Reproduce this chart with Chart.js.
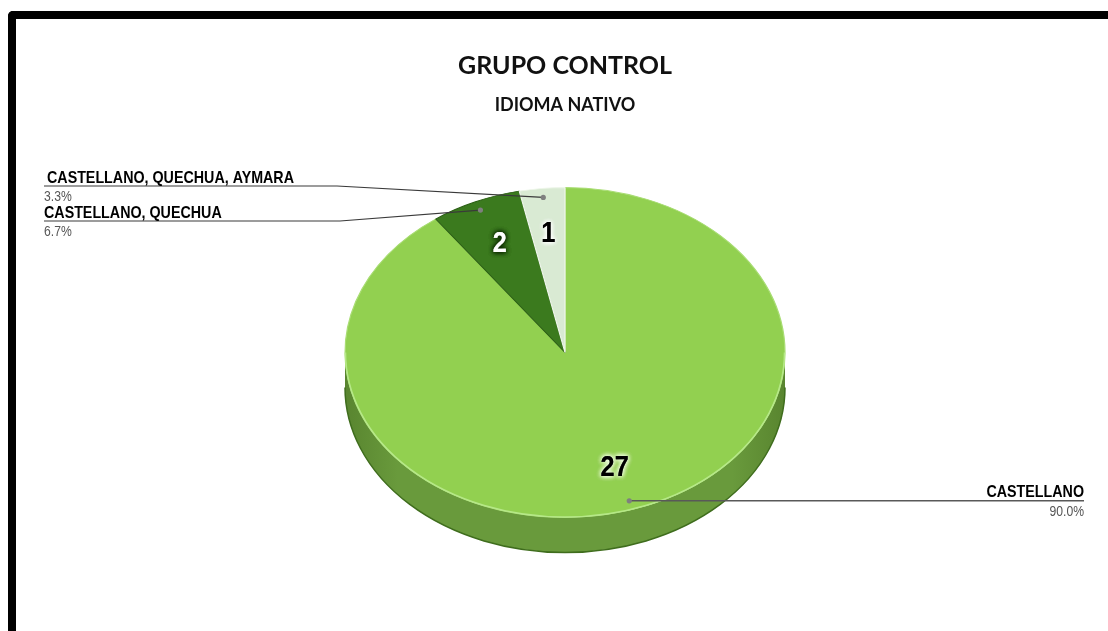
<!DOCTYPE html>
<html>
<head>
<meta charset="utf-8">
<script src="https://cdn.jsdelivr.net/npm/chart.js@4.4.1/dist/chart.umd.min.js"></script>
<style>
  html, body { margin: 0; padding: 0; background: #fff; overflow: hidden; }
  #wrap { position: relative; width: 1108px; height: 631px; overflow: hidden; }
  #c { position: absolute; left: 0; top: 0; }
  #frame {
    position: absolute; left: 8px; top: 11px; width: 1200px; height: 700px;
    border-top: 8px solid #000; border-left: 8px solid #000;
    border-top-left-radius: 5px; box-sizing: border-box; pointer-events: none;
  }
</style>
</head>
<body>
<div id="wrap">
  <canvas id="c" width="1108" height="631"></canvas>
  <div id="frame"></div>
</div>
<script>
// Native language of the control group
const categories = ['CASTELLANO', 'CASTELLANO, QUECHUA', 'CASTELLANO, QUECHUA, AYMARA'];
const counts = [27, 2, 1];

// Slice colours: top face, side wall, slice edge
const topColors = ['#92d050', '#3b7a1e', '#d9ead3'];
const sideColors = ['#699a3c', '#2d5e15', '#aebfa8'];
const edgeColors = ['#a9dd74', '#2b5f14', '#eef6ea'];

const TILT = 0.75;   // vertical squash of the pie disc
const DEPTH = 35;    // thickness of the disc in pixels
const CONDENSE = 0.84; // horizontal squeeze for the condensed label lettering

const total = counts.reduce((a, b) => a + b, 0);
const percentText = counts.map(v => (v / total * 100).toFixed(1) + '%');

const SANS = '"Liberation Sans", Arial, sans-serif';

// Where each callout's text sits
const callouts = [
  { align: 'right', x: 1084 },
  { align: 'left', x0: 44, x1: 340, y: 221, tx: 44 },
  { align: 'left', x0: 44, x1: 337, y: 186, tx: 47 }
];

function arcGeom(arc) {
  return arc.getProps(['x', 'y', 'startAngle', 'endAngle', 'outerRadius'], true);
}

function onFace(g, frac) {
  const mid = (g.startAngle + g.endAngle) / 2;
  return {
    x: g.x + g.outerRadius * frac * Math.cos(mid),
    y: g.y + g.outerRadius * frac * Math.sin(mid) * TILT
  };
}

// draw text narrowed horizontally around its anchor
function condensedText(ctx, text, x, y, times) {
  ctx.save();
  ctx.translate(x, y);
  ctx.scale(CONDENSE, 1);
  for (let k = 0; k < (times || 1); k++) ctx.fillText(text, 0, 0);
  ctx.restore();
}

const pie3d = {
  id: 'pie3d',
  beforeDatasetsDraw(chart) {
    const ctx = chart.ctx;
    const arcs = chart.getDatasetMeta(0).data;
    const g0 = arcGeom(arcs[0]);
    const cx = g0.x, cy = g0.y, r = g0.outerRadius, ry = r * TILT;

    // side wall, only the front half of the disc is visible
    ctx.save();
    arcs.forEach((arc, i) => {
      const g = arcGeom(arc);
      [-2 * Math.PI, 0, 2 * Math.PI].forEach(shift => {
        const a0 = Math.max(g.startAngle, shift);
        const a1 = Math.min(g.endAngle, shift + Math.PI);
        if (a1 <= a0) return;
        ctx.beginPath();
        ctx.ellipse(cx, cy, r, ry, 0, a0, a1);
        ctx.ellipse(cx, cy + DEPTH, r, ry, 0, a1, a0, true);
        ctx.closePath();
        ctx.fillStyle = sideColors[i];
        ctx.fill();
        const grad = ctx.createLinearGradient(cx - r, 0, cx + r, 0);
        grad.addColorStop(0, 'rgba(40,70,10,0.25)');
        grad.addColorStop(0.12, 'rgba(40,70,10,0)');
        grad.addColorStop(0.88, 'rgba(40,70,10,0)');
        grad.addColorStop(1, 'rgba(40,70,10,0.25)');
        ctx.fillStyle = grad;
        ctx.fill();
        ctx.beginPath();
        ctx.ellipse(cx, cy + DEPTH, r, ry, 0, a0, a1);
        ctx.strokeStyle = '#3f6d1d';
        ctx.lineWidth = 1.5;
        ctx.stroke();
      });
    });
    ctx.restore();

    // squash the round pie into the tilted top face
    ctx.save();
    ctx.translate(0, cy);
    ctx.scale(1, TILT);
    ctx.translate(0, -cy);
  },
  afterDatasetsDraw(chart) {
    const ctx = chart.ctx;
    ctx.restore();
    const arcs = chart.getDatasetMeta(0).data;
    const g0 = arcGeom(arcs[0]);
    const cx = g0.x, cy = g0.y, r = g0.outerRadius, ry = r * TILT;

    // light rim where the top face meets the wall
    ctx.save();
    ctx.beginPath();
    ctx.ellipse(cx, cy, r - 0.5, ry - 0.5, 0, 0, Math.PI);
    ctx.strokeStyle = '#b6e888';
    ctx.lineWidth = 1.5;
    ctx.stroke();
    ctx.restore();

    // value labels inside the slices
    const valueStyles = [
      { fill: '#000', glow: '#f2ffe4' },
      { fill: '#fff', glow: '#0d2a02' },
      { fill: '#000', glow: '#ffffff' }
    ];
    ctx.save();
    ctx.font = 'bold 30px ' + SANS;
    ctx.textAlign = 'center';
    ctx.textBaseline = 'middle';
    arcs.forEach((arc, i) => {
      const p = onFace(arcGeom(arc), 0.73);
      const s = valueStyles[i];
      ctx.fillStyle = s.fill;
      ctx.shadowColor = s.glow;
      ctx.shadowBlur = 5;
      condensedText(ctx, String(counts[i]), p.x, p.y + 1, 3);
    });
    ctx.restore();

    // callouts with leader lines
    ctx.save();
    arcs.forEach((arc, i) => {
      const dot = onFace(arcGeom(arc), 0.945);
      const c = callouts[i];
      ctx.beginPath();
      if (c.align === 'right') {
        ctx.moveTo(dot.x, dot.y);
        ctx.lineTo(c.x, dot.y);
        ctx.strokeStyle = '#595959';
        ctx.lineWidth = 1.6;
      } else {
        ctx.moveTo(c.x0, c.y);
        ctx.lineTo(c.x1, c.y);
        ctx.lineTo(dot.x, dot.y);
        ctx.strokeStyle = '#3a3a3a';
        ctx.lineWidth = 1.2;
      }
      ctx.stroke();

      ctx.beginPath();
      ctx.arc(dot.x, dot.y, 2.6, 0, Math.PI * 2);
      ctx.fillStyle = '#7f7f7f';
      ctx.fill();

      const lineY = c.align === 'right' ? dot.y : c.y;
      const tx = c.align === 'right' ? c.x : c.tx;
      const px = c.align === 'right' ? c.x : c.x0;
      ctx.textAlign = c.align;
      ctx.textBaseline = 'alphabetic';
      ctx.font = 'bold 17px ' + SANS;
      ctx.fillStyle = '#000';
      condensedText(ctx, categories[i], tx, lineY - 3.5);
      ctx.font = '14.5px ' + SANS;
      ctx.fillStyle = '#555';
      condensedText(ctx, percentText[i], px, lineY + 15);
    });
    ctx.restore();
  }
};

new Chart(document.getElementById('c'), {
  type: 'pie',
  data: {
    labels: categories,
    datasets: [{
      data: counts,
      backgroundColor: topColors,
      borderColor: edgeColors,
      borderWidth: 1.2,
      hoverOffset: 0,
      clip: false
    }]
  },
  options: {
    responsive: false,
    animation: false,
    events: [],
    radius: 220,
    layout: { padding: { left: 22, bottom: 41.6 } },
    plugins: {
      legend: { display: false },
      tooltip: { enabled: false },
      title: {
        display: true,
        text: 'GRUPO CONTROL',
        color: '#111',
        font: { family: 'Lato', size: 25, weight: 'bold' },
        padding: { top: 51, bottom: 13 }
      },
      subtitle: {
        display: true,
        text: 'IDIOMA NATIVO',
        color: '#111',
        font: { family: 'Lato', size: 18, weight: 'bold' },
        padding: { top: 0, bottom: 0 }
      }
    }
  },
  plugins: [pie3d]
});
</script>
</body>
</html>
